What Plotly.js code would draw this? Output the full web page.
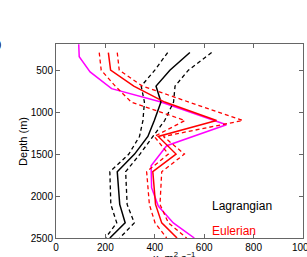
<!DOCTYPE html>
<html><head><meta charset="utf-8">
<script src="https://cdn.plot.ly/plotly-3.0.1.min.js"></script>
<style>html,body{margin:0;padding:0;background:#fff;}#chart{width:307px;height:257px;}</style>
</head><body><div id="chart"></div>
<script>
// Depth levels (m)
const depth = [290, 500, 690, 880, 1100, 1290, 1500, 1710, 2100, 2320, 2500];
// Lagrangian diffusivity (m^2 s^-1): mean and bounds
const lagMean = [542, 461, 405, 425, 398, 372, 318, 248, 258, 280, 218];
const lagLow  = [452, 400, 345, 358, 352, 338, 295, 218, 222, 246, 200];
const lagHigh = [630, 536, 482, 476, 440, 392, 340, 282, 288, 317, 258];
// Eulerian diffusivity: mean and bounds
const eulMean = [212, 221, 315, 440, 650, 414, 486, 392, 403, 428, 490];
const eulLow  = [175, 183, 240, 305, 522, 398, 455, 367, 378, 401, 448];
const eulHigh = [248, 256, 350, 540, 756, 435, 520, 428, 421, 455, 529];
// Magenta reference profile
const magDepth = [190, 340, 520, 720, 880, 1150, 1400, 1640, 1900, 2120, 2320, 2460, 2500];
const magVal   = [92, 94, 138, 225, 425, 690, 448, 385, 387, 414, 475, 542, 560];

const xTicks = [0, 200, 400, 600, 800, 1000];
const yTicks = [500, 1000, 1500, 2000, 2500];

const FONT = 'Arial, "Liberation Sans", sans-serif';
const dashPat = '4px,3px';

function tr(x, y, color, dash, w) {
  return {x: x, y: y, type: 'scatter', mode: 'lines',
    line: {color: color, width: w, dash: dash}, hoverinfo: 'skip'};
}

const data = [
  tr(magVal, magDepth, '#ff00ff', 'solid', 1.5),
  tr(lagLow, depth, '#000000', dashPat, 1.3),
  tr(lagHigh, depth, '#000000', dashPat, 1.3),
  tr(lagMean, depth, '#000000', 'solid', 1.5),
  tr(eulLow, depth, '#ff0000', dashPat, 1.3),
  tr(eulHigh, depth, '#ff0000', dashPat, 1.3),
  tr(eulMean, depth, '#ff0000', 'solid', 1.5)
];

const axisCommon = {
  showgrid: false, zeroline: false, showline: true, linecolor: '#666', linewidth: 1,
  mirror: 'ticks', ticks: 'inside', ticklen: 4, tickcolor: '#666',
  ticklabeloverflow: 'allow',
  tickfont: {family: FONT, size: 10, color: '#000'}
};

const layout = {
  width: 307, height: 257,
  margin: {l: 56, r: 4, t: 44, b: 19},
  paper_bgcolor: '#fff', plot_bgcolor: '#fff',
  showlegend: false,
  font: {family: FONT, color: '#000'},
  xaxis: Object.assign({}, axisCommon, {range: [0, 1000], tickvals: xTicks, ticktext: xTicks.map(String)}),
  yaxis: Object.assign({}, axisCommon, {range: [2500, 188], tickvals: yTicks, ticktext: yTicks.map(String)}),
  annotations: [
    {text: 'Lagrangian', xref: 'paper', yref: 'paper', x: 0.623, y: 0.165, xanchor: 'left', yanchor: 'middle',
     showarrow: false, font: {family: FONT, size: 12, color: '#000'}},
    {text: 'Eulerian', xref: 'paper', yref: 'paper', x: 0.623, y: 0.036, xanchor: 'left', yanchor: 'middle',
     showarrow: false, font: {family: FONT, size: 12, color: '#ff0000'}},
    {text: 'Depth (m)', xref: 'paper', yref: 'paper', x: -0.134, y: 0.5, xanchor: 'center', yanchor: 'middle',
     textangle: -90, showarrow: false, font: {family: FONT, size: 11, color: '#000'}},
    {text: 'κ, m<sup>2</sup> s<sup>−1</sup>', xref: 'paper', yref: 'paper', x: 0.478, y: -0.05, xanchor: 'center', yanchor: 'top',
     showarrow: false, font: {family: FONT, size: 11, color: '#000'}},
    {text: '(b)', xref: 'paper', yref: 'paper', x: -0.214, y: 1.0, xanchor: 'right', yanchor: 'middle',
     showarrow: false, font: {family: FONT, size: 11, color: '#000'}}
  ]
};

Plotly.newPlot('chart', data, layout, {staticPlot: true, displayModeBar: false});
</script></body></html>
